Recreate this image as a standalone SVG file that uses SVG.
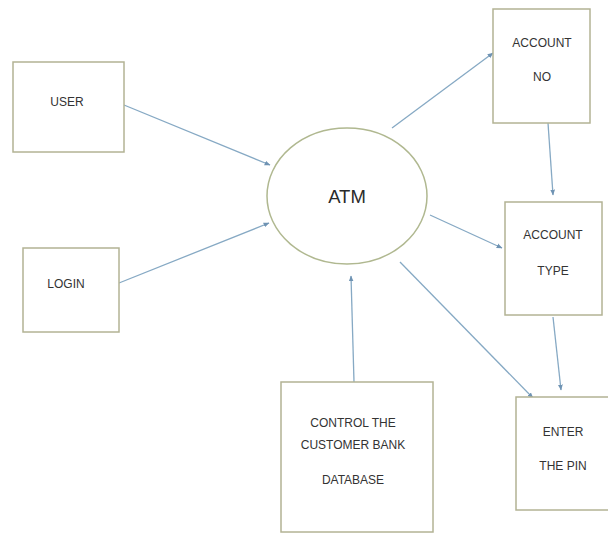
<svg xmlns="http://www.w3.org/2000/svg" width="608" height="535" viewBox="0 0 608 535">
<defs>
<style>
.box{fill:#ffffff;stroke:#b3b394;stroke-width:1.5}
.lbl{font-family:"Liberation Sans",Arial,sans-serif;font-size:12px;fill:#333333;text-anchor:middle}
.big{font-family:"Liberation Sans",Arial,sans-serif;font-size:18.5px;fill:#2a2a2a;text-anchor:middle}
.conn{stroke:#86a9c4;stroke-width:1.3;fill:none;marker-end:url(#ah)}
</style>
<marker id="ah" viewBox="0 0 10 10" refX="9" refY="5" markerWidth="6" markerHeight="6" orient="auto" markerUnits="userSpaceOnUse">
<path d="M0,1 L10,5 L0,9 z" fill="#6f93b3"/>
</marker>
</defs>
<rect width="608" height="535" fill="#ffffff"/>
<g id="connectors">
<line class="conn" x1="124" y1="105" x2="270" y2="165"/>
<line class="conn" x1="119" y1="283" x2="269" y2="223"/>
<line class="conn" x1="392" y1="128" x2="493" y2="53"/>
<line class="conn" x1="548" y1="123" x2="553" y2="195"/>
<line class="conn" x1="430" y1="215" x2="502" y2="248"/>
<line class="conn" x1="400" y1="262" x2="533" y2="398"/>
<line class="conn" x1="553" y1="317" x2="561" y2="390"/>
<line class="conn" x1="354" y1="382" x2="351" y2="276"/>
</g>
<g id="atm">
<ellipse cx="347" cy="196" rx="80" ry="68" fill="#ffffff" stroke="#b0b890" stroke-width="1.5"/>
<text class="big" x="347" y="203">ATM</text>
</g>
<g id="user">
<rect class="box" x="13" y="62" width="111" height="90"/>
<text class="lbl" x="67" y="106">USER</text>
</g>
<g id="login">
<rect class="box" x="23" y="248" width="96" height="84"/>
<text class="lbl" x="66" y="288">LOGIN</text>
</g>
<g id="account-no">
<rect class="box" x="493" y="9" width="97" height="114"/>
<text class="lbl" x="542" y="47">ACCOUNT</text>
<text class="lbl" x="542" y="81">NO</text>
</g>
<g id="account-type">
<rect class="box" x="505" y="202" width="97" height="113"/>
<text class="lbl" x="553" y="239">ACCOUNT</text>
<text class="lbl" x="553" y="275">TYPE</text>
</g>
<g id="enter-pin">
<rect class="box" x="516" y="397" width="100" height="113"/>
<text class="lbl" x="563" y="436">ENTER</text>
<text class="lbl" x="563" y="470">THE PIN</text>
</g>
<g id="database">
<rect class="box" x="281" y="382" width="152" height="150"/>
<text class="lbl" x="353" y="427">CONTROL THE</text>
<text class="lbl" x="353" y="449">CUSTOMER BANK</text>
<text class="lbl" x="353" y="484">DATABASE</text>
</g>
</svg>
